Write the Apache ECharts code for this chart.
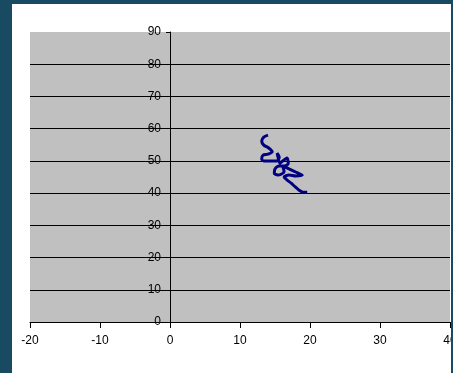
<!DOCTYPE html>
<html>
<head>
<meta charset="utf-8">
<script src="https://cdn.jsdelivr.net/npm/echarts@6/dist/echarts.min.js"></script>
<style>
  html, body { margin: 0; padding: 0; width: 453px; height: 373px; background: #184a62; overflow: hidden; }
  #chart { position: absolute; left: 12px; top: 4px; width: 439px; height: 369px; background: #ffffff; }
</style>
</head>
<body>
<div id="chart"></div>
<script>
// Trajectory samples (x, y)
const xValues = [14.0, 13.4, 13.1, 13.4, 14.1, 14.6, 14.0, 13.3, 13.1, 13.4, 14.3, 15.3, 15.6, 15.3, 15.4, 15.7, 16.3, 16.7, 16.9, 16.4, 15.6, 15.0, 14.9, 15.4, 16.3, 16.1, 16.7, 17.6, 18.3, 18.9, 18.0, 17.0, 16.3, 16.7, 17.3, 17.9, 18.4, 19.0, 19.6];
const yValues = [58.0, 57.4, 56.2, 54.9, 54.0, 52.8, 52.1, 51.8, 50.6, 50.0, 50.0, 50.0, 51.2, 52.4, 51.5, 49.3, 50.3, 50.9, 49.3, 48.4, 48.4, 47.5, 46.2, 45.6, 46.6, 48.4, 47.8, 46.9, 46.2, 45.6, 45.3, 45.6, 45.0, 44.1, 43.1, 41.9, 41.0, 40.3, 40.3];

const xTicks = { min: -20, max: 40, interval: 10 };
const yTicks = { min: 0, max: 90, interval: 10 };

const points = xValues.map((x, i) => [x, yValues[i]]);

const gridLeft = 18, gridRight = 1;
const plotWidth = 439 - gridLeft - gridRight;
// shift the value axis so it sits on x = 0
const yAxisShift = -plotWidth * (0 - xTicks.min) / (xTicks.max - xTicks.min);

const chart = echarts.init(document.getElementById('chart'), null, { renderer: 'canvas' });
const font = { fontFamily: 'Liberation Sans, Arial, sans-serif', fontSize: 12, color: '#000000' };

chart.setOption({
  animation: false,
  backgroundColor: '#ffffff',
  grid: {
    left: gridLeft, right: gridRight, top: 28, bottom: 51,
    containLabel: false, outerBoundsMode: 'none',
    show: true, backgroundColor: '#c0c0c0', borderWidth: 0
  },
  xAxis: {
    type: 'value',
    min: xTicks.min, max: xTicks.max, interval: xTicks.interval,
    position: 'bottom',
    axisLine: { show: true, onZero: false, lineStyle: { color: '#000000', width: 1 } },
    axisTick: { show: true, length: 6, lineStyle: { color: '#000000' } },
    axisLabel: Object.assign({ margin: 13 }, font),
    splitLine: { show: false }
  },
  yAxis: {
    type: 'value',
    min: yTicks.min, max: yTicks.max, interval: yTicks.interval,
    position: 'left',
    offset: yAxisShift,
    axisLine: { show: true, onZero: false, lineStyle: { color: '#000000', width: 1 } },
    axisTick: { show: true, length: 4, lineStyle: { color: '#000000' } },
    axisLabel: Object.assign({ margin: 9 }, font),
    splitLine: { show: true, showMaxLine: false, lineStyle: { color: '#000000', width: 1 } }
  },
  series: [{
    type: 'line',
    data: points,
    smooth: 0.3,
    showSymbol: false,
    lineStyle: { color: '#000080', width: 3 },
    clip: false
  }]
});
</script>
</body>
</html>
